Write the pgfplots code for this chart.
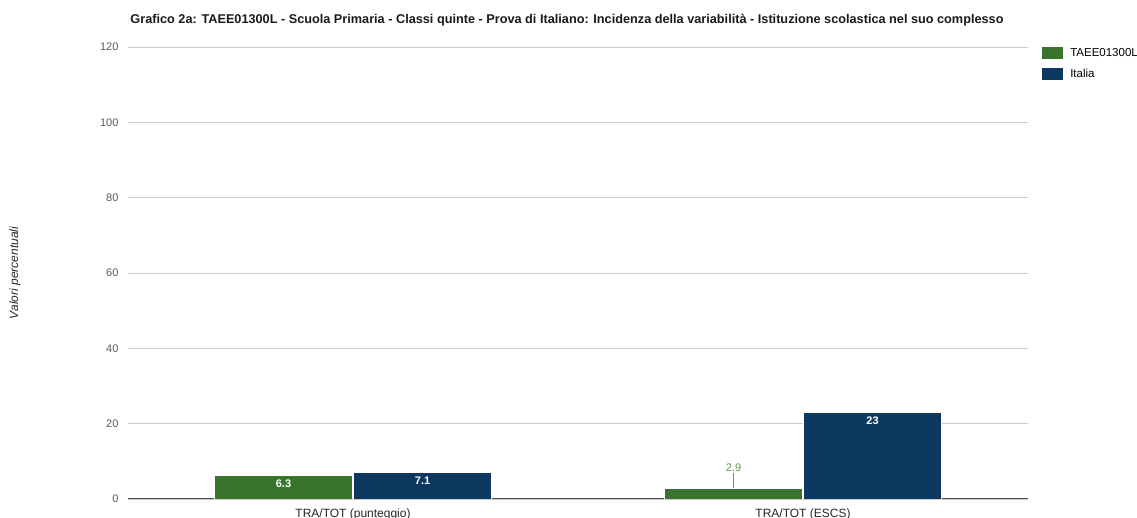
\documentclass[border=0pt]{standalone}
\usepackage{pgfplots}
\pgfplotsset{compat=1.18}
\usepackage{fontspec}
\setmainfont{Liberation Sans}
\definecolor{cgreen}{HTML}{3A732D}
\definecolor{cblue}{HTML}{0D3960}
\definecolor{cgrid}{HTML}{CCCCCC}
\definecolor{clabel}{HTML}{5A9A4C}
\begin{document}
\begin{tikzpicture}[x=1pt,y=1pt]
\useasboundingbox (0,0) rectangle (1137,518);
\node[font=\fontsize{12.7}{14}\selectfont\bfseries, text=black!90] at (567,498) {Grafico 2a: TAEE01300L - Scuola Primaria - Classi quinte - Prova di Italiano: Incidenza della variabilità - Istituzione scolastica nel suo complesso};
\node[rotate=90, font=\fontsize{12}{14}\selectfont\itshape, text=black!85] at (15,245) {Valori percentuali};
\begin{axis}[
  at={(128pt,19pt)}, anchor=south west,
  scale only axis, width=900pt, height=452pt,
  xmin=-0.5, xmax=1.5, ymin=0, ymax=120,
  ytick={0,20,...,120},
  xtick={0,1},
  xticklabels={TRA/TOT (punteggio),TRA/TOT (ESCS)},
  ymajorgrids, grid style={cgrid, line width=0.8pt},
  axis x line*=bottom, axis y line*=left,
  y axis line style={draw=none},
  x axis line style={draw=black!70, line width=1pt},
  major tick length=0pt,
  /pgf/number format/assume math mode=true,
  yticklabel style={font=\fontsize{11}{12}\selectfont, text=black!65, xshift=-6pt},
  xticklabel style={font=\fontsize{12}{13}\selectfont, text=black!85, yshift=-6pt},
  ybar=1pt, bar width=0.307,
  legend style={at={(1.0156,1)}, anchor=north west, draw=none, inner sep=0pt,
    font=\fontsize{11.5}{12}\selectfont, row sep=8.5pt, nodes={inner sep=1pt},
    /tikz/every odd column/.append style={column sep=6pt}},
  legend cell align=left,
  legend image code/.code={\path[#1,draw=none] (0pt,-6pt) rectangle (21pt,6pt);},
]
\addplot[fill=cgreen, draw=white, line width=0.5pt] coordinates {(0,6.3) (1,2.9)};
\addplot[fill=cblue, draw=white, line width=0.5pt,
  nodes near coords,
  every node near coord/.append style={anchor=north, text=white, yshift=-2pt, inner sep=2pt,
    font=\fontsize{11}{12}\selectfont\bfseries}] coordinates {(0,7.1) (1,23)};
\legend{TAEE01300L,Italia}
\node[anchor=north, text=white, inner sep=2pt, yshift=-2pt, font=\fontsize{11}{12}\selectfont\bfseries] at (axis cs:-0.1545,6.3) {6.3};
\draw[black!50, line width=0.8pt] (axis cs:0.8455,2.9) -- (axis cs:0.8455,6.8);
\node[anchor=south, text=clabel, inner sep=1pt, font=\fontsize{11}{12}\selectfont] at (axis cs:0.8455,6.9) {2.9};
\end{axis}
\end{tikzpicture}
\end{document}
